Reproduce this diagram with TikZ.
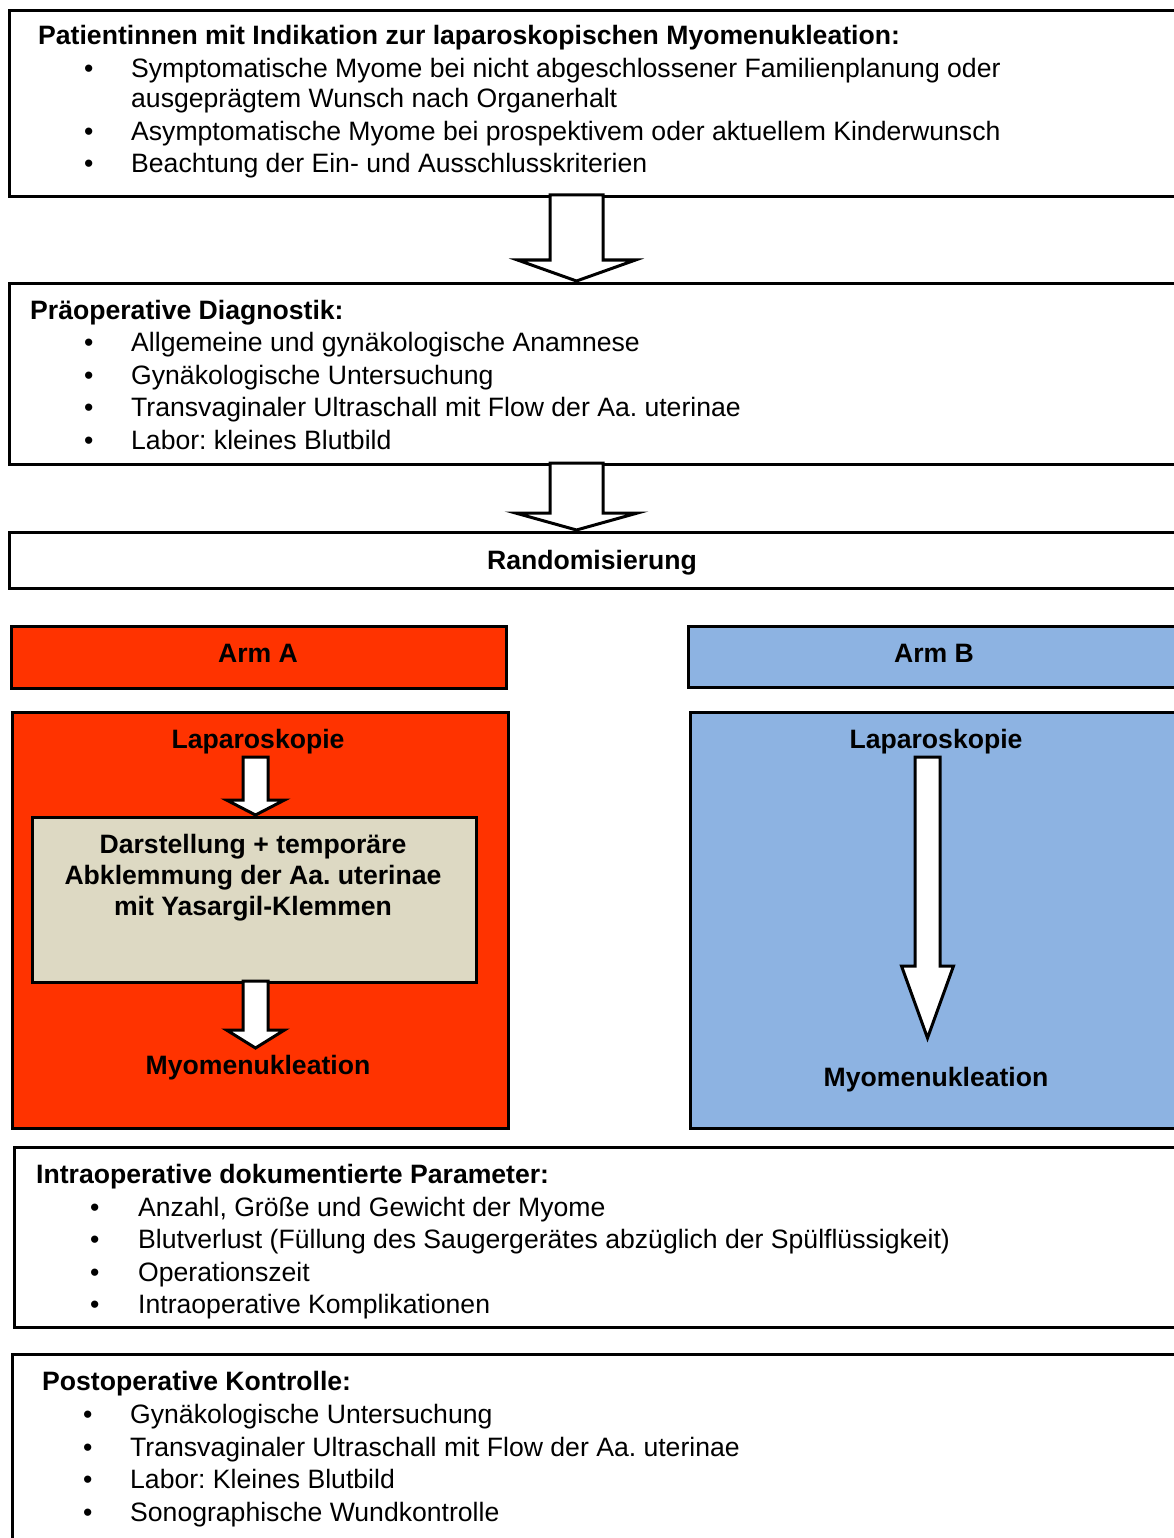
\documentclass[tikz,border=0pt]{standalone}
\usepackage{fontspec}
\setmainfont{Liberation Sans}
\usetikzlibrary{calc}
\frenchspacing
\definecolor{armred}{HTML}{FF3300}
\definecolor{armblue}{HTML}{8DB3E2}
\definecolor{clampgray}{HTML}{DDD9C3}
\tikzset{
  box/.style={draw=black, line width=3pt, anchor=north west, inner sep=0pt},
  txt/.style={anchor=base west, inner sep=0pt, font=\fontsize{26.6}{32.5}\selectfont},
  hdr/.style={txt, font=\fontsize{26.6}{32.5}\selectfont\bfseries},
  ctr/.style={anchor=base, inner sep=0pt, font=\fontsize{26.6}{31}\selectfont\bfseries, align=center},
  barrow/.style={draw=black, line width=3pt, fill=white, line join=miter}
}
% block arrow: #1 top y, #2 centre x, #3 shaft half width, #4 head half width, #5 head start y, #6 tip y
\newcommand\blockarrow[6]{%
  \draw[barrow] (#2-#3,#1) -- (#2-#3,#5) -- (#2-#4,#5) -- (#2,#6) -- (#2+#4,#5) -- (#2+#3,#5) -- (#2+#3,#1) -- cycle;}
\begin{document}
\begin{tikzpicture}[x=1pt,y=-1pt]
\useasboundingbox (0,0) rectangle (1174,1538);
% boxes
\node[box, minimum width=1200pt, minimum height=186pt] (b1) at (8,9) {};
\node[box, minimum width=1200pt, minimum height=181pt] (b2) at (8,282) {};
\node[box, minimum width=1200pt, minimum height=56pt] (b3) at (8,531) {};
\node[box, fill=armred, minimum width=495pt, minimum height=62pt] (armA) at (10,625) {};
\node[box, fill=armblue, minimum width=520pt, minimum height=61pt] (armB) at (687,625) {};
\node[box, fill=armred, minimum width=496pt, minimum height=416pt] (bigA) at (11,711) {};
\node[box, fill=armblue, minimum width=520pt, minimum height=416pt] (bigB) at (689,711) {};
\node[box, fill=clampgray, minimum width=444pt, minimum height=165pt] (clamp) at (31,816) {};
\node[box, minimum width=1200pt, minimum height=180pt] (b4) at (13,1146) {};
\node[box, minimum width=1200pt, minimum height=250pt] (b5) at (11,1353) {};

% box 1 text
\node[hdr] (h1) at (38,45) {Patientinnen mit Indikation zur laparoskopischen Myomenukleation:};
\node[txt] (p1) at (84,78) {•};
\node[txt] (t1) at (131,78) {Symptomatische Myome bei nicht abgeschlossener Familienplanung oder};
\node[txt] (t1b) at (131,108) {ausgeprägtem Wunsch nach Organerhalt};
\node[txt] (p2) at (84,141) {•};
\node[txt] (t2) at (131,141) {Asymptomatische Myome bei prospektivem oder aktuellem Kinderwunsch};
\node[txt] (p3) at (84,173) {•};
\node[txt] (t3) at (131,173) {Beachtung der Ein- und Ausschlusskriterien};

% box 2 text
\node[hdr] (h2) at (30,319) {Präoperative Diagnostik:};
\node[txt] (q1) at (84,351) {•};
\node[txt] (s1) at (131,351) {Allgemeine und gynäkologische Anamnese};
\node[txt] (q2) at (84,384) {•};
\node[txt] (s2) at (131,384) {Gynäkologische Untersuchung};
\node[txt] (q3) at (84,416) {•};
\node[txt] (s3) at (131,416) {Transvaginaler Ultraschall mit Flow der Aa. uterinae};
\node[txt] (q4) at (84,449) {•};
\node[txt] (s4) at (131,449) {Labor: kleines Blutbild};

% randomisation
\node[ctr] (rand) at (592,569) {Randomisierung};

% arms
\node[ctr] (la) at (258,662) {Arm A};
\node[ctr] (lb) at (934,662) {Arm B};
\node[ctr] (lapA) at (258,748) {Laparoskopie};
\node[ctr] (clt) at (253,915) {Darstellung + temporäre\\Abklemmung der Aa. uterinae\\mit Yasargil-Klemmen};
\node[ctr] (myoA) at (258,1074) {Myomenukleation};
\node[ctr] (lapB) at (936,748) {Laparoskopie};
\node[ctr] (myoB) at (936,1086) {Myomenukleation};

% box 4 text
\node[hdr] (h4) at (36,1183) {Intraoperative dokumentierte Parameter:};
\node[txt] (r1) at (90,1216) {•};
\node[txt] (u1) at (138,1216) {Anzahl, Größe und Gewicht der Myome};
\node[txt] (r2) at (90,1248) {•};
\node[txt] (u2) at (138,1248) {Blutverlust (Füllung des Saugergerätes abzüglich der Spülflüssigkeit)};
\node[txt] (r3) at (90,1281) {•};
\node[txt] (u3) at (138,1281) {Operationszeit};
\node[txt] (r4) at (90,1313) {•};
\node[txt] (u4) at (138,1313) {Intraoperative Komplikationen};

% box 5 text
\node[hdr] (h5) at (42,1390) {Postoperative Kontrolle:};
\node[txt] (v1) at (83,1423) {•};
\node[txt] (w1) at (130,1423) {Gynäkologische Untersuchung};
\node[txt] (v2) at (83,1456) {•};
\node[txt] (w2) at (130,1456) {Transvaginaler Ultraschall mit Flow der Aa. uterinae};
\node[txt] (v3) at (83,1488) {•};
\node[txt] (w3) at (130,1488) {Labor: Kleines Blutbild};
\node[txt] (v4) at (83,1521) {•};
\node[txt] (w4) at (130,1521) {Sonographische Wundkontrolle};

% block arrows
\blockarrow{195}{576.5}{26.5}{59}{260}{281}
\blockarrow{463}{576.5}{26.5}{61}{513}{530}
\blockarrow{757}{255.5}{12.5}{29}{800}{815}
\blockarrow{981}{255.5}{12.5}{29}{1030}{1048}
\blockarrow{757}{927.5}{12.5}{26}{966}{1038}
\end{tikzpicture}
\end{document}
